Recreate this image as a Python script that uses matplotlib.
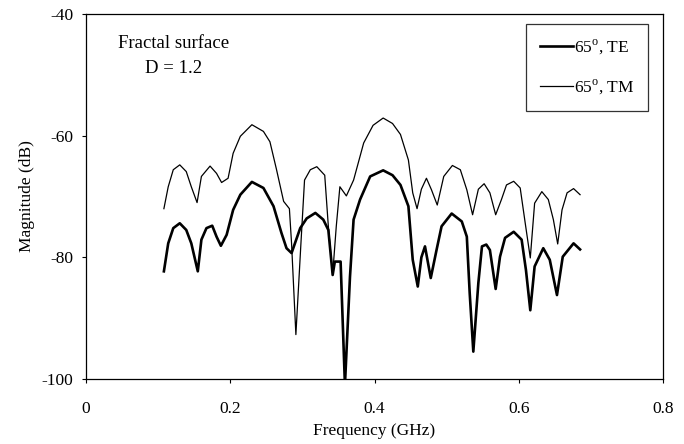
import matplotlib
matplotlib.use("Agg")
import matplotlib.pyplot as plt

plt.rcParams['font.family'] = ['Liberation Serif', 'DejaVu Serif']
plt.rcParams['mathtext.fontset'] = 'custom'
plt.rcParams['mathtext.rm'] = 'Liberation Serif'
plt.rcParams['axes.unicode_minus'] = False

# TM (thin) series
freq_tm = [0.108, 0.114, 0.121, 0.130, 0.139, 0.146, 0.154, 0.160, 0.172, 0.181,
           0.188, 0.197, 0.204, 0.214, 0.230, 0.246, 0.255, 0.264, 0.274, 0.282,
           0.285, 0.291, 0.298, 0.303, 0.311, 0.320, 0.331, 0.336, 0.342, 0.347,
           0.352, 0.361, 0.371, 0.385, 0.398, 0.412, 0.425, 0.436, 0.447, 0.453,
           0.459, 0.465, 0.472, 0.479, 0.487, 0.496, 0.508, 0.519, 0.528, 0.536,
           0.544, 0.552, 0.560, 0.568, 0.576, 0.583, 0.593, 0.602, 0.609, 0.616,
           0.622, 0.632, 0.641, 0.648, 0.654, 0.660, 0.667, 0.676, 0.685]
mag_tm = [-72.0, -68.4, -65.6, -64.8, -65.9, -68.4, -71.0, -66.7, -65.0, -66.2,
          -67.7, -67.0, -62.9, -60.1, -58.2, -59.3, -61.0, -65.5, -70.8, -72.0,
          -77.7, -92.7, -77.7, -67.3, -65.6, -65.1, -66.5, -74.9, -82.8, -74.9,
          -68.4, -69.9, -67.3, -61.2, -58.3, -57.1, -58.0, -59.8, -64.0, -69.4,
          -72.0, -68.8, -67.0, -68.9, -71.4, -66.7, -64.9, -65.6, -68.9, -73.0,
          -68.8, -67.9, -69.4, -73.0, -70.5, -68.1, -67.5, -68.6, -74.4, -80.1,
          -71.1, -69.2, -70.5, -73.8, -77.8, -72.2, -69.4, -68.7, -69.7]

# TE (thick) series
freq_te = [0.108, 0.114, 0.121, 0.130, 0.139, 0.146, 0.155, 0.160, 0.167, 0.175,
           0.181, 0.187, 0.195, 0.204, 0.214, 0.230, 0.246, 0.260, 0.271, 0.278,
           0.285, 0.297, 0.306, 0.318, 0.329, 0.336, 0.342, 0.345, 0.353, 0.359,
           0.366, 0.371, 0.380, 0.394, 0.412, 0.425, 0.436, 0.447, 0.453, 0.460,
           0.465, 0.470, 0.478, 0.486, 0.493, 0.507, 0.521, 0.528, 0.532, 0.537,
           0.544, 0.549, 0.555, 0.560, 0.568, 0.574, 0.581, 0.593, 0.604, 0.610,
           0.616, 0.622, 0.634, 0.643, 0.653, 0.661, 0.676, 0.685]
mag_te = [-82.3, -77.7, -75.2, -74.4, -75.5, -77.7, -82.3, -77.1, -75.2, -74.8,
          -76.6, -78.1, -76.3, -72.2, -69.7, -67.6, -68.6, -71.6, -76.0, -78.5,
          -79.3, -75.2, -73.6, -72.7, -73.8, -75.5, -82.9, -80.7, -80.7, -101.0,
          -83.2, -73.8, -70.5, -66.7, -65.7, -66.5, -68.1, -71.6, -80.4, -84.8,
          -80.0, -78.2, -83.4, -78.8, -74.9, -72.8, -74.1, -76.6, -85.9, -95.5,
          -84.2, -78.2, -77.9, -78.8, -85.2, -79.9, -76.8, -75.8, -77.1, -82.1,
          -88.7, -81.5, -78.5, -80.4, -86.2, -79.9, -77.7, -78.7]

labels = ["65$^{\\rm o}$, TE", "65$^{\\rm o}$, TM"]
x_ticks = [0, 0.2, 0.4, 0.6, 0.8]
x_ticklabels = ["0", "0.2", "0.4", "0.6", "0.8"]
y_ticks = [-100, -80, -60, -40]

fig = plt.figure(figsize=(6.84, 4.44), dpi=100)
ax = fig.add_axes([86/684, 65/444, 577/684, 365/444])

ax.plot(freq_te, mag_te, color='black', lw=1.9, label=labels[0])
ax.plot(freq_tm, mag_tm, color='black', lw=0.9, label=labels[1])

ax.set_xlim(0, 0.8)
ax.set_ylim(-100, -40)
ax.set_xticks(x_ticks)
ax.set_xticklabels(x_ticklabels)
ax.set_yticks(y_ticks)
ax.tick_params(direction='out', length=3, width=0.8, labelsize=12.5)
ax.tick_params(axis='x', pad=13)
ax.tick_params(axis='y', pad=6)
for s in ax.spines.values():
    s.set_linewidth(0.9)

ax.set_xlabel("Frequency (GHz)", fontsize=12.5, labelpad=4)
ax.set_ylabel("Magnitude (dB)", fontsize=12.5, labelpad=5)

ax.text(0.152, 0.92, "Fractal surface", transform=ax.transAxes, fontsize=13.5,
        ha='center', va='center')
ax.text(0.152, 0.85, "D = 1.2", transform=ax.transAxes, fontsize=13.5,
        ha='center', va='center')

leg = ax.legend(loc='upper right', bbox_to_anchor=(0.974, 0.9726), borderaxespad=0,
                fontsize=12.5, frameon=True, fancybox=False, edgecolor='black',
                handlelength=1.9, handletextpad=0.05, labelspacing=1.2,
                borderpad=0.8)
leg.get_frame().set_linewidth(0.9)

fig.savefig("out.png", dpi=100)
